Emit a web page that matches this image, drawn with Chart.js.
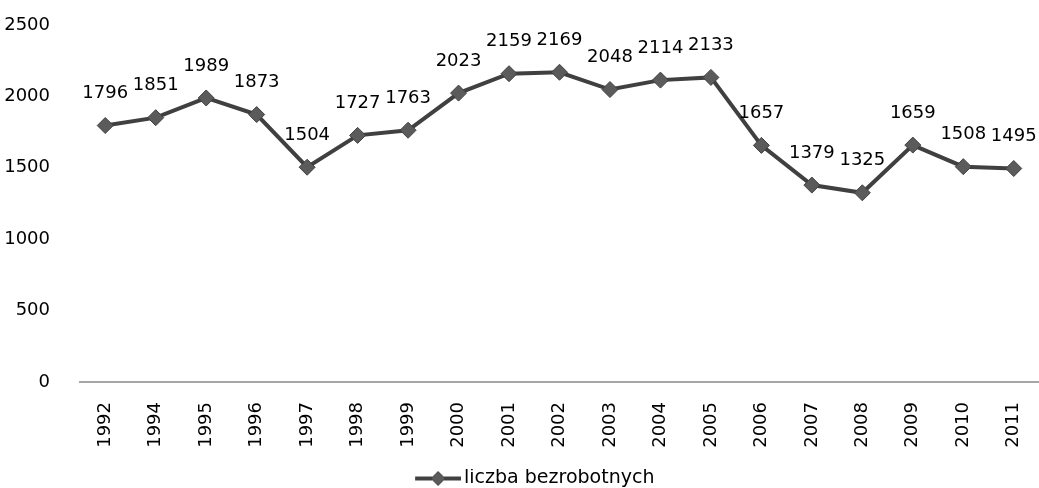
<!DOCTYPE html>
<html>
<head>
<meta charset="utf-8">
<script src="https://cdn.jsdelivr.net/npm/chart.js@4/dist/chart.umd.min.js"></script>
<style>
  html, body { margin: 0; padding: 0; background: #fff; }
  #wrap { width: 1039px; height: 488px; }
</style>
</head>
<body>
<div id="wrap"><canvas id="c" width="1039" height="488"></canvas></div>
<script>
var years = ['1992', '1994', '1995', '1996', '1997', '1998', '1999', '2000', '2001', '2002',
  '2003', '2004', '2005', '2006', '2007', '2008', '2009', '2010', '2011'];
var unemployed = [1796, 1851, 1989, 1873, 1504, 1727, 1763, 2023, 2159, 2169,
  2048, 2114, 2133, 1657, 1379, 1325, 1659, 1508, 1495];
var yTicks = [0, 500, 1000, 1500, 2000, 2500];
var seriesName = 'liczba bezrobotnych';

var fontFamily = '"DejaVu Sans", sans-serif';
var lineColor = '#404040';
var markerColor = '#5b5b5b';

// legend marker: line with a diamond, drawn at the right end of a wider
// transparent canvas so the legend sits where the original has it
var legendIcon = document.createElement('canvas');
legendIcon.width = 83;
legendIcon.height = 16;
(function () {
  var g = legendIcon.getContext('2d');
  g.strokeStyle = lineColor;
  g.lineWidth = 4;
  g.beginPath();
  g.moveTo(37, 8);
  g.lineTo(83, 8);
  g.stroke();
  g.fillStyle = markerColor;
  g.strokeStyle = lineColor;
  g.lineWidth = 1;
  g.beginPath();
  g.moveTo(60, 1);
  g.lineTo(67, 8);
  g.lineTo(60, 15);
  g.lineTo(53, 8);
  g.closePath();
  g.fill();
  g.stroke();
})();

var valueLabels = {
  id: 'valueLabels',
  afterDatasetsDraw: function (chart) {
    var ctx = chart.ctx;
    var meta = chart.getDatasetMeta(0);
    ctx.save();
    ctx.font = '18px ' + fontFamily;
    ctx.fillStyle = '#000';
    ctx.textAlign = 'center';
    ctx.textBaseline = 'middle';
    meta.data.forEach(function (pt, i) {
      ctx.fillText(String(unemployed[i]), pt.x, pt.y - 32);
    });
    ctx.restore();
  }
};

new Chart(document.getElementById('c').getContext('2d'), {
  type: 'line',
  data: {
    labels: years,
    datasets: [{
      label: seriesName,
      data: unemployed,
      borderColor: lineColor,
      borderWidth: 4,
      backgroundColor: markerColor,
      pointStyle: 'rectRot',
      pointRadius: 8,
      pointBorderColor: lineColor,
      pointBorderWidth: 1,
      pointBackgroundColor: markerColor,
      tension: 0
    }]
  },
  options: {
    responsive: false,
    animation: false,
    layout: { autoPadding: false, padding: { top: 25, right: 0, left: 0, bottom: -10 } },
    plugins: {
      tooltip: { enabled: false },
      legend: {
        position: 'bottom',
        labels: {
          usePointStyle: true,
          pointStyleWidth: 70,
          boxHeight: 16,
          padding: 0,
          color: '#222',
          font: { family: fontFamily, size: 19 },
          generateLabels: function (chart) {
            return [{
              text: seriesName,
              pointStyle: legendIcon,
              fillStyle: markerColor,
              strokeStyle: lineColor,
              lineWidth: 0,
              datasetIndex: 0
            }];
          }
        }
      }
    },
    scales: {
      x: {
        offset: true,
        grid: { display: false },
        border: { display: true, color: '#a6a6a6', width: 2 },
        ticks: {
          minRotation: 90,
          maxRotation: 90,
          color: '#000',
          padding: 12,
          font: { family: fontFamily, size: 18 }
        },
        afterFit: function (scale) {
          scale.height = 87;
          scale.paddingLeft = 0;
          scale.paddingRight = 0;
        }
      },
      y: {
        min: 0,
        max: 2500,
        afterBuildTicks: function (scale) {
          scale.ticks = yTicks.map(function (v) { return { value: v }; });
        },
        grid: { display: false },
        border: { display: false },
        ticks: {
          color: '#000',
          padding: 22,
          font: { family: fontFamily, size: 18 },
          callback: function (v) { return String(v); }
        },
        afterFit: function (scale) {
          scale.width = 80;
          scale.paddingTop = 0;
          scale.paddingBottom = 0;
        }
      }
    }
  },
  plugins: [valueLabels]
});
</script>
</body>
</html>
